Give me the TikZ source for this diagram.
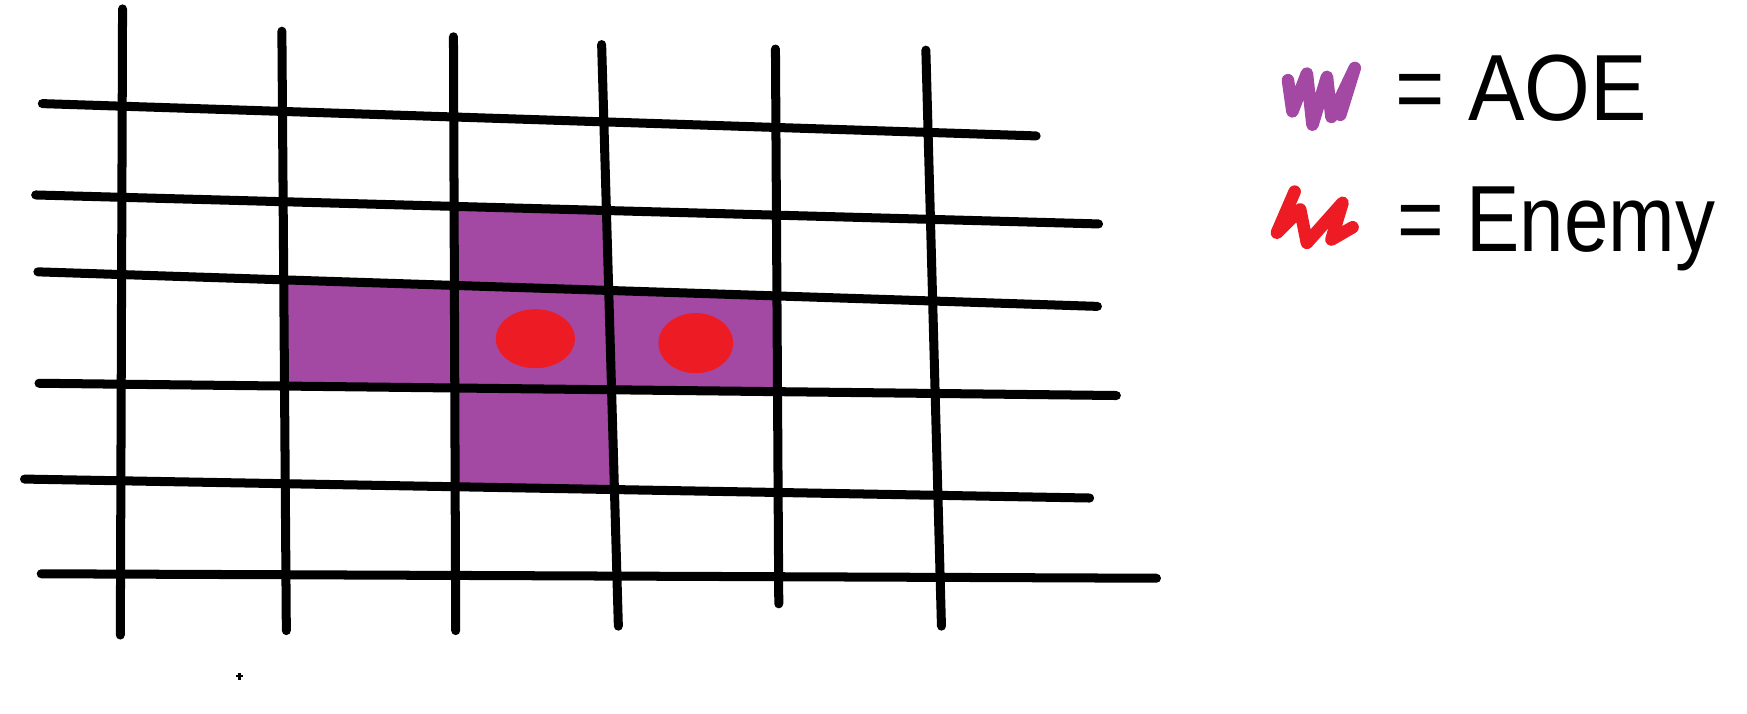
\documentclass[tikz,border=0pt]{standalone}
\usepackage{fontspec}
\setmainfont{Liberation Sans}
\definecolor{aoepurple}{HTML}{A349A4}
\definecolor{enemyred}{HTML}{ED1C24}
\begin{document}
\begin{tikzpicture}[x=0.01cm,y=-0.01cm,
  gridline/.style={line width=2.3pt, line cap=round, black},
  aoefill/.style={fill=aoepurple},
  enemy/.style={fill=enemyred},
  scribble/.style={line width=3.2pt, line cap=round, line join=round},
  legendtext/.style={anchor=base west, inner sep=0pt, font=\fontsize{24}{28}\selectfont}]
\useasboundingbox (0,0) rectangle (1568,640);
\fill[white] (0,0) rectangle (1568,640);
% line end points
\coordinate (v1t) at (110,8);   \coordinate (v1b) at (108,570);
\coordinate (v2t) at (253,28);  \coordinate (v2b) at (257,566);
\coordinate (v3t) at (407,33);  \coordinate (v3b) at (409,566);
\coordinate (v4t) at (540,40);  \coordinate (v4b) at (555,562);
\coordinate (v5t) at (696,44);  \coordinate (v5b) at (699,542);
\coordinate (v6t) at (831,45);  \coordinate (v6b) at (845,562);
\coordinate (h1l) at (38,93);   \coordinate (h1r) at (930,122);
\coordinate (h2l) at (32,175);  \coordinate (h2r) at (986,201);
\coordinate (h3l) at (34,244);  \coordinate (h3r) at (985,275);
\coordinate (h4l) at (35,344);  \coordinate (h4r) at (1002,355);
\coordinate (h5l) at (22,430);  \coordinate (h5r) at (978,447);
\coordinate (h6l) at (37,515);  \coordinate (h6r) at (1038,519);
% intersections for the AOE region
\coordinate (a32) at (intersection of v3t--v3b and h2l--h2r);
\coordinate (a42) at (intersection of v4t--v4b and h2l--h2r);
\coordinate (a23) at (intersection of v2t--v2b and h3l--h3r);
\coordinate (a33) at (intersection of v3t--v3b and h3l--h3r);
\coordinate (a43) at (intersection of v4t--v4b and h3l--h3r);
\coordinate (a53) at (intersection of v5t--v5b and h3l--h3r);
\coordinate (a24) at (intersection of v2t--v2b and h4l--h4r);
\coordinate (a34) at (intersection of v3t--v3b and h4l--h4r);
\coordinate (a44) at (intersection of v4t--v4b and h4l--h4r);
\coordinate (a54) at (intersection of v5t--v5b and h4l--h4r);
\coordinate (a35) at (intersection of v3t--v3b and h5l--h5r);
\coordinate (a45) at (intersection of v4t--v4b and h5l--h5r);
\fill[aoefill] (a32) -- (a42) -- (a43) -- (a53) -- (a54) -- (a44) -- (a45) -- (a35) -- (a34) -- (a24) -- (a23) -- (a33) -- cycle;
% enemies
\fill[enemy] (480.5,304) ellipse [x radius=35.5, y radius=26.5];
\fill[enemy] (624.5,308) ellipse [x radius=33.5, y radius=27];
% grid
\foreach \n in {1,...,6} {
  \draw[gridline] (h\n l) -- (h\n r);
  \draw[gridline] (v\n t) -- (v\n b);
}
% stray mark
\draw[line width=0.6pt] (212,607) -- (218,607) (215,604) -- (215,610);
% legend
\draw[scribble, aoepurple] (1156,72) -- (1160,100) -- (1173,66) -- (1178,112) -- (1191,69) -- (1195,105) -- (1216,61) -- (1203,103) -- (1214,66);
\draw[scribble, enemyred] (1162,172) -- (1146,209) -- (1167,188) -- (1173,218) -- (1205,182) -- (1195,215) -- (1214,204);
\node[legendtext, xscale=0.9] (aoelbl) at (1252,108) {= AOE};
\node[legendtext, xscale=0.85] (enemylbl) at (1254,226) {= Enemy};
\end{tikzpicture}
\end{document}
